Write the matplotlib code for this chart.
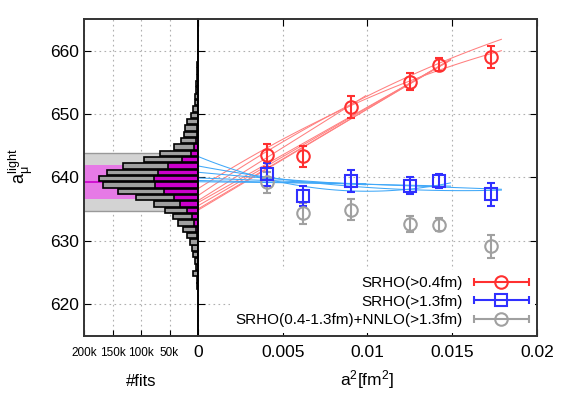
import numpy as np
import matplotlib
matplotlib.use("Agg")
import matplotlib.pyplot as plt
from matplotlib.container import ErrorbarContainer
from matplotlib.legend_handler import HandlerErrorbar

plt.rcParams["font.family"] = ["Liberation Sans", "DejaVu Sans"]
plt.rcParams["mathtext.fontset"] = "custom"
plt.rcParams["mathtext.rm"] = "Liberation Sans"
plt.rcParams["mathtext.it"] = "Liberation Sans"

# ---------------------------------------------------------------------------
# data
# ---------------------------------------------------------------------------
a2 = [0.0041, 0.0062, 0.0090, 0.0125, 0.0142, 0.0173]

srho_04 = [643.5, 643.3, 651.1, 655.1, 657.8, 659.0]
srho_04_err = [1.8, 1.6, 1.7, 1.35, 1.0, 1.8]

srho_13 = [640.5, 637.1, 639.4, 638.7, 639.4, 637.3]
srho_13_err = [1.8, 1.6, 1.7, 1.35, 1.1, 1.8]

srho_nnlo = [639.2, 634.3, 634.9, 632.6, 632.5, 629.1]
srho_nnlo_err = [1.7, 1.6, 1.7, 1.3, 1.0, 1.8]

# fit curves: intercept, slope, curvature, end of fit range
red_c0 = [636.3, 635.0, 635.5, 636.0, 634.8, 637.1, 638.2]
red_c1 = [1677, 1580, 1550, 1510, 1600, 1823, 1696]
red_c2 = [0, 0, 0, 0, 0, -24730, -26680]
red_end = [0.0099, 0.0149, 0.0149, 0.0149, 0.0149, 0.0179, 0.0179]

blue_c0 = [643.3, 641.8, 640.8, 639.9, 639.5, 639.3]
blue_c1 = [-1100, -500, -250, -100, -60, -30]
blue_c2 = [55000, 16000, 5000, 0, 0, 0]
blue_end = [0.0149, 0.0179, 0.0099, 0.0179, 0.0149, 0.0099]

# histogram of fits
hist_centers = [622.8, 623.8, 624.8, 625.8, 626.8, 627.8, 628.8, 629.8, 630.8,
                631.8, 632.8, 633.8, 634.8, 635.8, 636.8, 637.8, 638.8, 639.8,
                640.8, 641.8, 642.8, 643.8, 644.8, 645.8, 646.8, 647.8, 648.8,
                649.8, 650.8, 651.8, 652.8, 653.8, 654.8, 655.8, 656.8, 657.8,
                658.8, 659.8]
hist_all = [1000, 1500, 9000, 3000, 6000, 9000, 11000, 14000, 20000,
            27000, 36000, 44000, 58000, 77000, 109000, 140000, 167000, 173000,
            160000, 131000, 95000, 67000, 43000, 30000, 25000, 23000, 19000,
            12000, 9000, 6000, 5000, 4000, 3000, 2000, 1500, 1000,
            800, 500]
hist_sel = [0, 0, 0, 0, 0, 0, 0, 0, 1000,
            3500, 6500, 11000, 19000, 32000, 43000, 60000, 75000, 77000,
            70000, 52000, 29000, 13000, 6500, 3000, 1500, 1000, 0,
            0, 0, 0, 0, 0, 0, 0, 0, 0,
            0, 0]

result = 639.3
stat_lo, stat_hi = 636.5, 642.0
tot_lo, tot_hi = 634.6, 643.8

# ---------------------------------------------------------------------------
fig = plt.figure(figsize=(5.65, 3.95), dpi=100)
axh = fig.add_axes([0.1487, 0.1506, 0.2018, 0.801])
ax = fig.add_axes([0.3504, 0.1506, 0.6, 0.801], sharey=axh)

grid_kw = dict(color="#b0b0b0", linestyle=(0, (1.5, 3)), linewidth=0.8)

# --- histogram panel
axh.set_axisbelow(True)
axh.grid(True, **grid_kw)
axh.axhspan(tot_lo, tot_hi, color="#d3d3d3", lw=0)
axh.axhline(tot_lo, color="#999999", lw=1)
axh.axhline(tot_hi, color="#999999", lw=1)
axh.axhspan(stat_lo, stat_hi, color="#e67ae6", lw=0)
axh.axhline(result, color="#cc00cc", lw=1.2)
axh.barh(hist_centers, hist_all, height=0.85, color="#a0a0a0",
         edgecolor="black", linewidth=1.2, zorder=3)
axh.barh(hist_centers, hist_sel, height=0.85, color="#cc00cc",
         edgecolor="black", linewidth=1.2, zorder=4)
axh.set_xlim(200000, 0)
axh.set_xticks([200000, 150000, 100000, 50000])
axh.set_xticklabels(["200k", "150k", "100k", "50k"], fontsize=8.5)
axh.set_ylim(615, 665)
axh.set_yticks([620, 630, 640, 650, 660])
axh.tick_params(axis="y", labelsize=12.5, direction="in", length=5, right=False)
axh.tick_params(axis="x", direction="in", length=4, pad=8)
for s in axh.spines.values():
    s.set_linewidth(1.4)
    s.set_color("#333333")
axh.spines["right"].set_visible(False)

# --- extrapolation panel
ax.set_axisbelow(True)
ax.grid(True, **grid_kw)
for c0, c1, c2, xe in zip(red_c0, red_c1, red_c2, red_end):
    xx = np.linspace(0, xe, 60)
    ax.plot(xx, c0 + c1 * xx + c2 * xx ** 2, color="#ff8080", lw=0.75, zorder=2)
for c0, c1, c2, xe in zip(blue_c0, blue_c1, blue_c2, blue_end):
    xx = np.linspace(0, xe, 60)
    ax.plot(xx, c0 + c1 * xx + c2 * xx ** 2, color="#40a8f8", lw=0.75, zorder=2)

eb_kw = dict(linestyle="none", capsize=3, elinewidth=1.5, capthick=1.5,
             markerfacecolor="none", mew=1.5, zorder=4)
ax.errorbar(a2, srho_nnlo, yerr=srho_nnlo_err, fmt="o", ms=9, color="#a0a0a0", **eb_kw)
ax.errorbar(a2, srho_04, yerr=srho_04_err, fmt="o", ms=9, color="#ff3030", **eb_kw)
ax.errorbar(a2, srho_13, yerr=srho_13_err, fmt="s", ms=8, color="#3030ff", **eb_kw)

ax.set_xlim(0, 0.02)
ax.set_xticks([0, 0.005, 0.01, 0.015, 0.02])
ax.set_xticklabels(["0", "0.005", "0.01", "0.015", "0.02"])
ax.tick_params(axis="x", labelsize=12.5, direction="in", length=5, top=True, pad=7)
ax.tick_params(axis="y", direction="in", length=5, right=True, left=True, labelleft=False)
for s in ax.spines.values():
    s.set_linewidth(1.4)
    s.set_color("#333333")
ax.spines["left"].set_color("black")

# legend proxies with horizontal bars like the original
p1 = ax.errorbar([np.nan], [np.nan], xerr=[1], fmt="o", ms=9, color="#ff3030", **eb_kw)
p2 = ax.errorbar([np.nan], [np.nan], xerr=[1], fmt="s", ms=8, color="#3030ff", **eb_kw)
p3 = ax.errorbar([np.nan], [np.nan], xerr=[1], fmt="o", ms=9, color="#a0a0a0", **eb_kw)
leg = ax.legend([p1, p2, p3],
                ["SRHO(>0.4fm)", "SRHO(>1.3fm)", "SRHO(0.4-1.3fm)+NNLO(>1.3fm)"],
                loc="lower right", markerfirst=False, frameon=True, fancybox=False,
                edgecolor="none", framealpha=1, fontsize=11, handlelength=3.6,
                labelspacing=0.3, borderaxespad=0.15, handletextpad=0.7,
                handler_map={ErrorbarContainer: HandlerErrorbar(xerr_size=1.8)})

fig.text(0.037, 0.58, r"$a_\mu^{\rm light}$", rotation=90, fontsize=13,
         ha="center", va="center")
fig.text(0.25, 0.035, "#fits", fontsize=12, ha="center", va="center")
fig.text(0.65, 0.04, r"a$^2$[fm$^2$]", fontsize=12.5, ha="center", va="center")

fig.savefig("out.png", dpi=100)
